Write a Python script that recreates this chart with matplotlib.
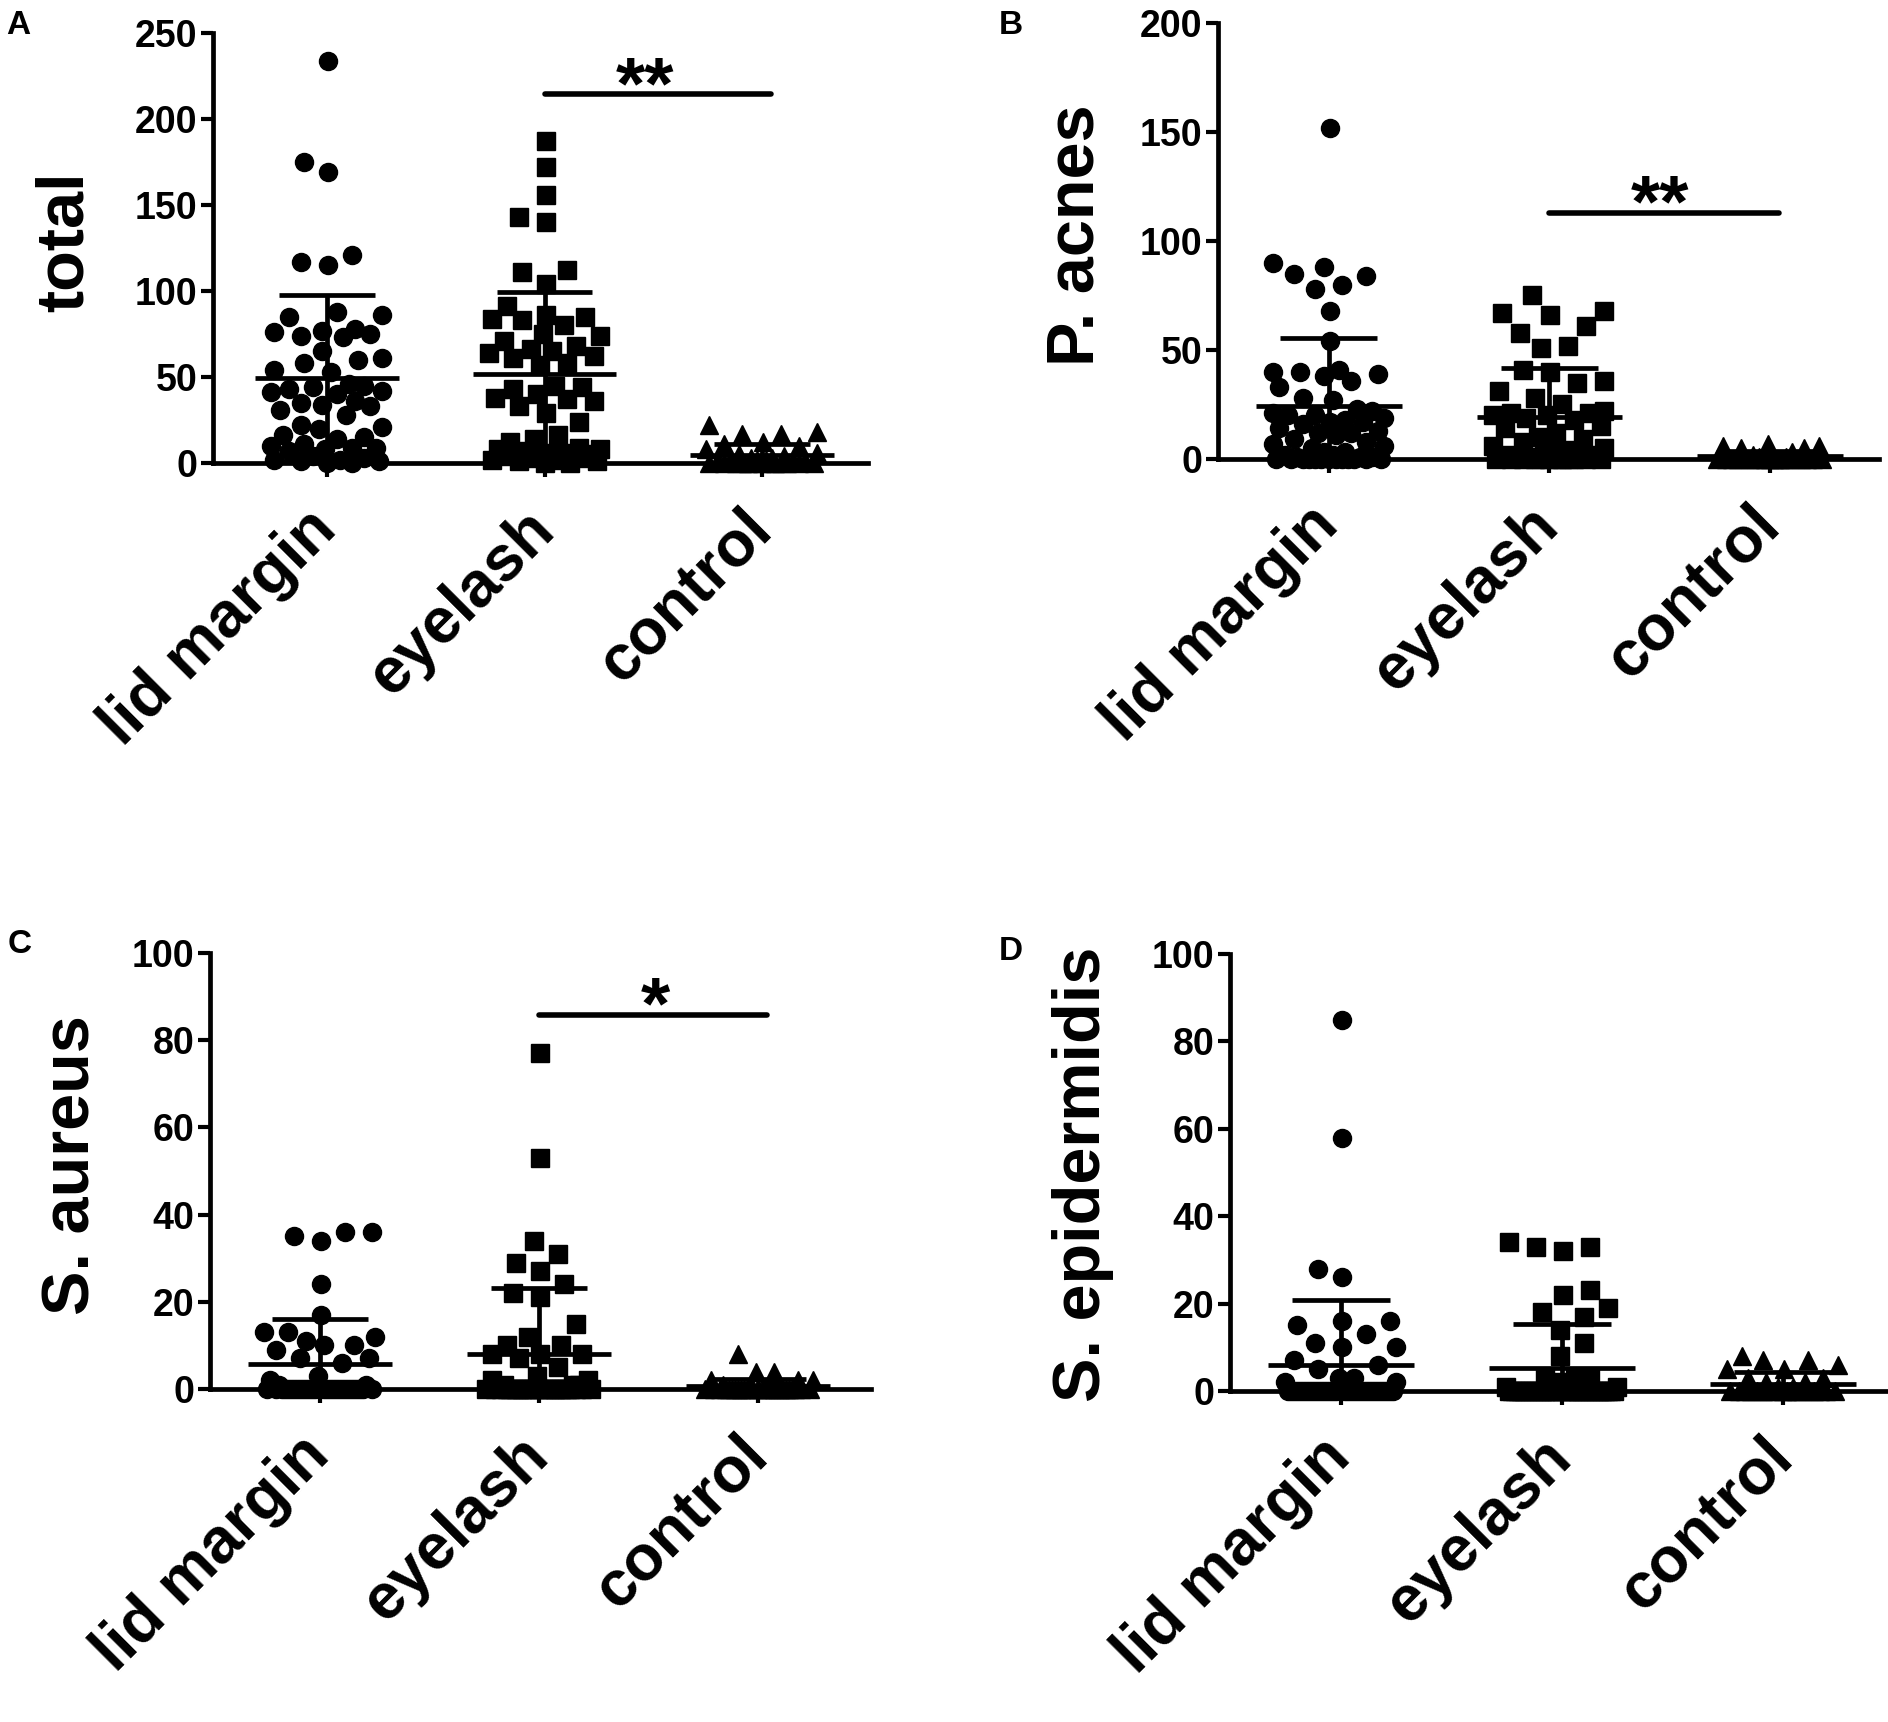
import numpy as np
import matplotlib
matplotlib.use("Agg")
import matplotlib.pyplot as plt

plt.rcParams['font.family'] = ['Liberation Sans', 'DejaVu Sans']
plt.rcParams['font.weight'] = 'bold'

groups = ["lid margin", "eyelash", "control"]

# A: total
total_lid = [234, 175, 169, 121, 117, 115, 88, 86, 85, 78, 77, 76, 75, 74,
             73, 65, 61, 60, 58, 54, 53, 46, 45, 44, 43, 42, 41, 40,
             36, 35, 34, 33, 31, 28, 22, 21, 20, 16, 15, 14,
             11, 10, 9, 9, 8, 7, 4, 3, 2, 2, 1, 1, 0, 0]
total_eyelash = [187, 172, 156, 143, 140, 112, 111, 104,
                 91, 86, 85, 84, 83, 80, 75, 74, 71, 68, 66, 65, 64, 62, 61, 58, 57,
                 45, 44, 43, 40, 38, 37, 36, 33, 29, 24, 16, 14, 12,
                 9, 8, 8, 7, 6, 6, 5, 5, 4, 3, 3, 2, 2, 1, 1, 0, 0]
total_control = [22, 18, 17, 17, 12, 11, 10, 8, 6, 5, 4, 3, 3, 2, 2, 2, 1, 1, 1,
                 0, 0, 0, 0, 0, 0, 0, 0, 0, 0, 0, 0, 0]

# B: P. acnes
pacnes_lid = [152, 90, 88, 85, 84, 80, 78, 68, 54, 41, 40, 40, 39, 38, 36, 33,
              28, 27, 23, 22, 21, 20, 20, 19, 18, 17, 17, 16, 14, 13, 12, 12, 11,
              9, 8, 7, 6, 5, 3, 3, 2, 2, 1, 1, 1,
              0, 0, 0, 0, 0, 0, 0, 0, 0, 0, 0, 0, 0]
pacnes_eyelash = [75, 68, 67, 66, 61, 58, 52, 51, 41, 40, 36, 35, 31, 28, 25, 22,
                  21, 21, 20, 20, 19, 18, 15, 14, 12, 10, 9, 8, 6, 5, 4, 3, 3, 2,
                  2, 1, 1, 1, 0, 0, 0, 0, 0, 0, 0, 0, 0, 0, 0, 0]
pacnes_control = [7, 6, 6, 5, 5, 3, 2, 1, 1, 0, 0, 0, 0, 0, 0, 0, 0, 0, 0, 0,
                  0, 0, 0, 0, 0, 0, 0, 0, 0]

# C: S. aureus
saureus_lid = [36, 36, 35, 34, 24, 17, 13, 13, 12, 11, 10, 10, 9, 7, 7, 6, 3, 2,
               1, 1] + [0] * 30
saureus_eyelash = [77, 53, 34, 31, 29, 27, 24, 22, 21, 15, 12, 10, 10, 8, 8, 8,
                   7, 5, 3, 2, 2, 1, 1, 1] + [0] * 27
saureus_control = [8, 4, 4, 2, 2, 2, 1] + [0] * 28

# D: S. epidermidis
sepi_lid = [85, 58, 28, 26, 16, 16, 15, 13, 11, 10, 10, 7, 6, 5, 3, 3, 2, 2] + [0] * 35
sepi_eyelash = [34, 33, 33, 32, 23, 22, 19, 18, 17, 14, 11, 8, 3, 3, 3, 2, 1, 1] + [0] * 35
sepi_control = [8, 7, 7, 6, 5, 5, 3, 3, 2, 2, 1, 1] + [0] * 18

W, H = 1888, 1722
fig = plt.figure(figsize=(W / 100, H / 100), dpi=100)
markers = ['o', 's', '^']
MS = 13            # marker size in points (~18 px)


def swarm(ypx, gap=25.0, grid=3.0, max_half=56.0):
    # simple beeswarm in pixel space, points overlap once the column is full
    cands = np.arange(-max_half, max_half + 0.01, grid)
    cands = cands[np.argsort(np.abs(cands), kind='stable')]
    placed_x, placed_y = [], []
    offs = np.zeros(len(ypx))
    for i in np.argsort(ypx, kind='stable'):
        if not placed_x:
            offs[i] = 0.0
        else:
            px, py = np.array(placed_x), np.array(placed_y)
            best, best_d = 0.0, -1.0
            for c in cands:
                d = np.min(np.hypot(px - c, py - ypx[i]))
                if d >= gap:
                    best = c
                    break
                if d > best_d + 1e-9:
                    best, best_d = c, d
            offs[i] = best
        placed_x.append(offs[i])
        placed_y.append(ypx[i])
    return offs


def panel(box, xlim, data, ymax, yticks, ylabel, ylab_xy, letter, letter_xy, sig):
    left, right, top, bottom = box
    ax = fig.add_axes([left / W, 1 - bottom / H, (right - left) / W, (bottom - top) / H])
    ax.set_xlim(*xlim)
    ax.set_ylim(0, ymax)
    px_per_unit = (right - left) / (xlim[1] - xlim[0])
    px_per_val = (bottom - top) / ymax
    for i, vals in enumerate(data):
        vals = np.asarray(vals, float)
        x = i + swarm(vals * px_per_val) / px_per_unit
        ax.plot(x, vals, ls='none', marker=markers[i], ms=MS, color='black',
                mec='black', clip_on=False, zorder=3)
        m, sd = vals.mean(), vals.std(ddof=1)
        ax.hlines(m, i - 0.33, i + 0.33, lw=3.4, color='black', zorder=4)
        ax.hlines([m + sd, m - sd], i - 0.22, i + 0.22, lw=3.4, color='black', zorder=4)
        ax.vlines(i, m - sd, m + sd, lw=3.4, color='black', zorder=4)

    for s in ['top', 'right']:
        ax.spines[s].set_visible(False)
    for s in ['left', 'bottom']:
        ax.spines[s].set_linewidth(3.4)
    ax.set_yticks(yticks)
    ax.set_xticks(range(3))
    ax.set_xticklabels(groups, rotation=45, ha='right', va='center',
                       rotation_mode='anchor', fontsize=46, fontweight='bold')
    ax.tick_params(axis='y', labelsize=27, length=9, width=3, pad=2)
    ax.tick_params(axis='x', length=10, width=3, pad=31)
    for t in ax.get_yticklabels():
        t.set_fontweight('bold')

    ax.set_ylabel(ylabel, fontsize=48, fontweight='bold', va='center')
    ax.yaxis.set_label_coords((ylab_xy[0] - left) / (right - left),
                              (bottom - ylab_xy[1]) / (bottom - top))
    fig.text(letter_xy[0] / W, 1 - letter_xy[1] / H, letter, fontsize=24,
             fontweight='bold', ha='center', va='center')

    if sig is not None:
        y, stars, sx = sig
        ax.plot([1.0, 2.04], [y, y], lw=4, color='black', solid_capstyle='round',
                clip_on=False)
        ax.annotate(stars, xy=(sx, y), xytext=(0, -10), textcoords='offset points',
                    ha='center', va='baseline', fontsize=54, fontweight='bold')
    return ax


panel((213, 868, 33, 463), (-0.524, 2.487), [total_lid, total_eyelash, total_control],
      250, range(0, 251, 50), "total", (66, 242), "A", (18, 25), (214.5, "**", 1.46))
panel((1218, 1879, 23, 459), (-0.503, 2.494), [pacnes_lid, pacnes_eyelash, pacnes_control],
      200, range(0, 201, 50), "P. acnes", (1077, 235), "B", (1011, 25), (113, "**", 1.5))
panel((210, 871, 953, 1389), (-0.502, 2.516), [saureus_lid, saureus_eyelash, saureus_control],
      100, range(0, 101, 20), "S. aureus", (72, 1165), "C", (20, 944), (85.8, "*", 1.53))
panel((1230, 1886, 954, 1391), (-0.502, 2.466), [sepi_lid, sepi_eyelash, sepi_control],
      100, range(0, 101, 20), "S. epidermidis", (1083, 1174), "D", (1011, 951), None)

fig.savefig("out.png", dpi=100)
